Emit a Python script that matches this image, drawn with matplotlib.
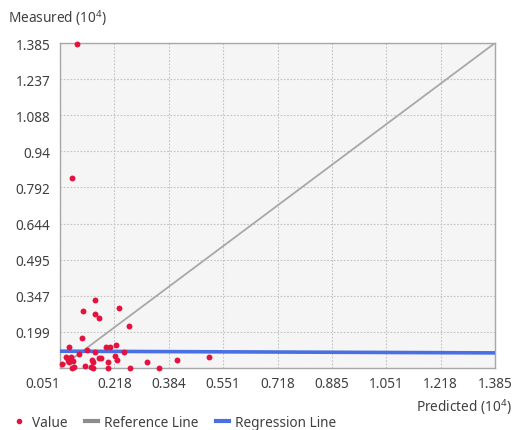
import matplotlib
matplotlib.use("Agg")
import matplotlib.pyplot as plt
from matplotlib.lines import Line2D
import numpy as np

plt.rcParams['font.family'] = ['Noto Sans', 'DejaVu Sans']
plt.rcParams['mathtext.fontset'] = 'custom'
plt.rcParams['mathtext.rm'] = 'Noto Sans'

# Predicted vs. measured values (units of 10^4)
predicted = [0.103, 0.087, 0.158, 0.121, 0.157, 0.170, 0.233, 0.264, 0.117, 0.080,
             0.192, 0.204, 0.223, 0.133, 0.158, 0.247, 0.108, 0.069, 0.085, 0.075,
             0.090, 0.080, 0.172, 0.148, 0.151, 0.146, 0.221, 0.225, 0.199, 0.319,
             0.409, 0.508, 0.056, 0.087, 0.095, 0.128, 0.153, 0.199, 0.267, 0.354,
             0.176]
measured = [1.381, 0.831, 0.331, 0.286, 0.274, 0.257, 0.297, 0.222, 0.175, 0.136,
            0.136, 0.136, 0.145, 0.126, 0.118, 0.115, 0.110, 0.095, 0.095, 0.084,
            0.081, 0.074, 0.091, 0.083, 0.074, 0.054, 0.099, 0.083, 0.074, 0.077,
            0.085, 0.095, 0.066, 0.051, 0.056, 0.060, 0.051, 0.051, 0.051, 0.051,
            0.092]

reference_x = [0.051, 1.385]
reference_y = [0.051, 1.385]
regression_x = [0.051, 1.385]
regression_y = [0.120, 0.113]

x_ticks = [0.051, 0.218, 0.384, 0.551, 0.718, 0.885, 1.051, 1.218, 1.385]
y_ticks = [0.051, 0.199, 0.347, 0.495, 0.644, 0.792, 0.94, 1.088, 1.237, 1.385]
y_tick_labels = ["", "0.199", "0.347", "0.495", "0.644", "0.792", "0.94", "1.088", "1.237", "1.385"]

point_color = "#E3123F"
ref_color = "#A8A8A8"
reg_color = "#4A6FE3"
text_color = "#404040"
font_size = 9.8

fig = plt.figure(figsize=(5.14, 4.31), dpi=100)
ax = fig.add_axes([60 / 514, 62 / 431, 435 / 514, 325 / 431])
ax.set_facecolor("#F5F5F5")

ax.set_xlim(x_ticks[0], x_ticks[-1])
ax.set_ylim(y_ticks[0], y_ticks[-1])

ax.set_xticks(x_ticks)
ax.set_xticklabels([f"{v:.3f}" for v in x_ticks])
ax.set_yticks(y_ticks)
ax.set_yticklabels(y_tick_labels)
ax.tick_params(length=0, labelsize=font_size, colors=text_color)
ax.tick_params(axis='y', pad=7)
ax.tick_params(axis='x', pad=6)

ax.grid(True, color="#C4C4C4", linestyle=(0, (1.5, 1.5)), linewidth=0.8)
ax.set_axisbelow(True)
for sp in ax.spines.values():
    sp.set_color("#A8A8A8")
    sp.set_linewidth(1.0)

ax.plot(reference_x, reference_y, color=ref_color, linewidth=1.3, zorder=2)
ax.plot(regression_x, regression_y, color=reg_color, linewidth=2.6, zorder=3)
ax.scatter(predicted, measured, s=18, color=point_color, marker='o',
           linewidths=0, zorder=4, clip_on=False)

# shift the first x label left so it does not sit on the corner
first = ax.get_xticklabels()[0]
first.set_horizontalalignment('right')
first.set_x(x_ticks[0] - 0.005)

fig.text(8 / 514, 1 - 18 / 431, r"Measured (10$^{4}$)", fontsize=font_size,
         color=text_color, ha='left', va='center')
fig.text(512 / 514, 1 - 407 / 431, r"Predicted (10$^{4}$)", fontsize=font_size,
         color=text_color, ha='right', va='center')

handles = [
    Line2D([], [], color=point_color, marker='o', markersize=3, linestyle='none'),
    Line2D([], [], color="#8C8C8C", linewidth=3),
    Line2D([], [], color=reg_color, linewidth=3),
]
fig.legend(handles, ["Value", "Reference Line", "Regression Line"],
           loc='lower left', bbox_to_anchor=(0 / 514, -12 / 431), ncol=3,
           frameon=False, fontsize=font_size, handlelength=1.0, handletextpad=0.45,
           columnspacing=1.25, labelcolor=text_color)

fig.savefig("out.png", dpi=100)
